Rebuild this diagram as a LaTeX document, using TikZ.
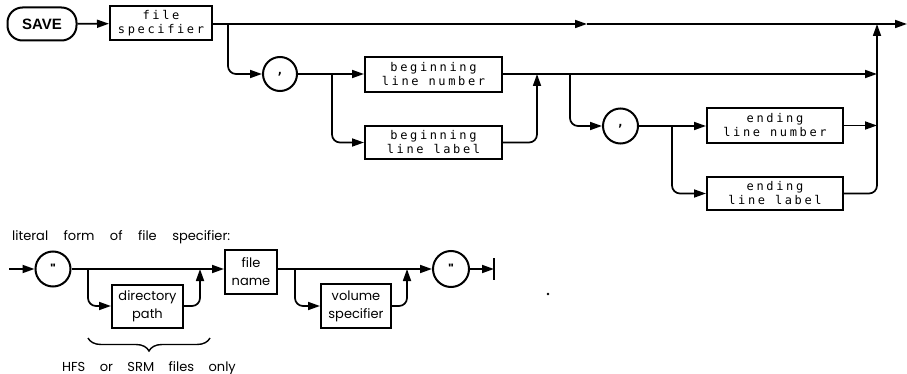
\documentclass[tikz,border=0pt]{standalone}
\usepackage{fontspec}
\setmainfont{Liberation Sans}
\newfontfamily\hpmono[LetterSpace=22]{DejaVu Sans Mono}
\newfontfamily\hpsans{Poppins}
\newfontfamily\hpbold{Liberation Sans}
\usetikzlibrary{arrows.meta,decorations.pathreplacing}
\begin{document}
\begin{tikzpicture}[x=1pt,y=-1pt,
  ln/.style={line width=1.7pt},
  arr/.style={ln,-{Triangle[length=12pt,width=8pt]}},
  rc/.style={rounded corners=8pt},
  mbox/.style={draw,line width=2pt,inner sep=0pt,align=center,font=\hpmono\fontsize{12}{14}\selectfont},
  sbox/.style={draw,line width=2pt,inner sep=0pt,align=center,font=\hpsans\fontsize{13}{18}\selectfont},
  ring/.style={draw,circle,line width=2pt,inner sep=0pt}]
\useasboundingbox (0,0) rectangle (907,374);
% ---------- top diagram ----------
\node[draw,line width=2pt,rounded corners=15pt,minimum width=69pt,minimum height=33pt,inner sep=0pt,font=\hpbold\bfseries\fontsize{15}{16}\selectfont] (save) at (42,24) {SAVE};
\node[mbox,minimum width=102pt,minimum height=34pt] (fs) at (161,23.5) {file\hspace{-2.6pt}\\specifier\hspace{-2.6pt}};
\node[ring,minimum size=34pt,font=\hpmono\bfseries\fontsize{12}{12}\selectfont] (c1) at (280,74) {,\hspace{-2.6pt}};
\node[mbox,minimum width=137pt,minimum height=35pt] (bln) at (433.5,74.5) {beginning\hspace{-2.6pt}\\line number\hspace{-2.6pt}};
\node[mbox,minimum width=137pt,minimum height=33pt] (bll) at (433.5,142.5) {beginning\hspace{-2.6pt}\\line label\hspace{-2.6pt}};
\node[ring,minimum size=35pt,font=\hpmono\bfseries\fontsize{12}{12}\selectfont] (c2) at (620.5,126) {,\hspace{-2.6pt}};
\node[mbox,minimum width=136pt,minimum height=35pt] (eln) at (775,125.5) {ending\hspace{-2.6pt}\\line number\hspace{-2.6pt}};
\node[mbox,minimum width=136pt,minimum height=33pt] (ell) at (775,193.5) {ending\hspace{-2.6pt}\\line label\hspace{-2.6pt}};

\coordinate (b1) at (228,24);
\coordinate (mid1) at (587,24);
\coordinate (jr) at (877,24);
\coordinate (endr) at (907,24);
\coordinate (b2) at (332,74);
\coordinate (j2) at (537,74);
\coordinate (b3) at (570,74);
\coordinate (jr2) at (877,74);
\coordinate (b4) at (672,126);
\coordinate (jr3) at (877,125.5);

\draw[arr] (save) -- (fs);
\draw[arr] (fs.east |- b1) -- (mid1);
\draw[ln] (mid1) -- (jr);
\draw[arr] (jr) -- (endr);
\draw[arr,rc] (b1) |- (c1.west);
\draw[arr] (c1.east) -- (bln.west |- c1);
\draw[arr,rc] (b2) |- (bll.west);
\draw[arr,rc] (bll.east) -| (j2);
\draw[arr] (bln.east |- j2) -- (jr2);
\draw[arr,rc] (b3) |- (c2.west);
\draw[arr] (c2.east) -- (eln.west |- c2);
\draw[arr,rc] (b4) |- (ell.west);
\draw[arr] (eln.east) -- (jr3);
\draw[arr,rc] (ell.east) -| (jr);

% ---------- bottom diagram ----------
\node[anchor=base west,inner sep=0pt,font=\hpsans\fontsize{13}{14}\selectfont] (lit) at (12,240) {literal\hspace{12pt} form\hspace{12pt} of\hspace{12pt} file\hspace{12pt} specifier:};
\node[ring,minimum size=35pt,font=\hpsans\bfseries\fontsize{13}{13}\selectfont] (q1) at (53,269) {"};
\node[sbox,minimum width=52pt,minimum height=44pt] (fn) at (251,272) {file\\name};
\node[sbox,minimum width=71pt,minimum height=43pt] (dp) at (147.5,306) {directory\\path};
\node[sbox,minimum width=70pt,minimum height=44pt] (vs) at (356,306) {volume\\specifier};
\node[ring,minimum size=36pt,font=\hpsans\bfseries\fontsize{13}{13}\selectfont] (q2) at (451,269) {"};

\coordinate (s0) at (9,269);
\coordinate (b5) at (88,269);
\coordinate (j5) at (200,269);
\coordinate (b6) at (295,269);
\coordinate (j6) at (407,269);
\coordinate (ebar) at (494,269);
\coordinate (ebt) at (494,258);
\coordinate (ebb) at (494,280);

\draw[arr] (s0) -- (q1.west);
\draw[arr] (q1.east) -- (fn.west |- q1);
\draw[arr,rc] (b5) |- (dp.west);
\draw[arr,rc] (dp.east) -| (j5);
\draw[arr] (fn.east |- q2) -- (q2.west);
\draw[arr,rc] (b6) |- (vs.west);
\draw[arr,rc] (vs.east) -| (j6);
\draw[arr] (q2.east) -- (ebar);
\draw[line width=2pt] (ebt) -- (ebb);

\coordinate (brl) at (88,338);
\coordinate (brr) at (210,338);
\draw[line width=1.4pt,decorate,decoration={brace,amplitude=13pt,mirror}] (brl) -- (brr);
\node[anchor=base,inner sep=0pt,font=\hpsans\fontsize{13}{14}\selectfont] (hfs) at (149,371) {HFS\hspace{11pt} or\hspace{11pt} SRM\hspace{11pt} files\hspace{11pt} only};

\fill (548,294) circle (1.3pt);
\end{tikzpicture}
\end{document}
